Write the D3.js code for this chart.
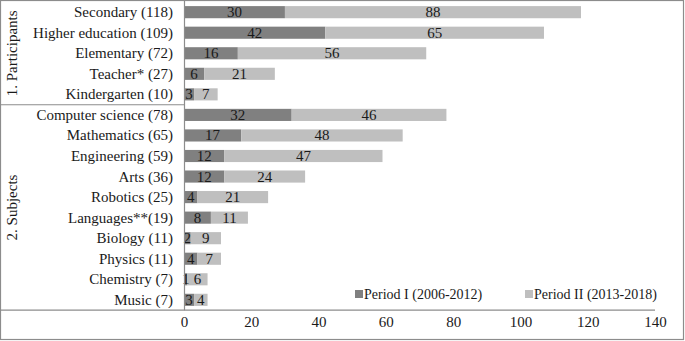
<!DOCTYPE html>
<html>
<head>
<meta charset="utf-8">
<script src="https://cdn.jsdelivr.net/npm/d3@7"></script>
<style>
  body { margin: 0; background: #fff; }
  text { font-family: "Liberation Serif", "Times New Roman", serif; }
</style>
</head>
<body>
<div id="viz-container"></div>
<script>
// categories, top to bottom
let categories = ["Secondary (118)", "Higher education (109)", "Elementary (72)", "Teacher* (27)", "Kindergarten (10)",
  "Computer science (78)", "Mathematics (65)", "Engineering (59)", "Arts (36)", "Robotics (25)",
  "Languages**(19)", "Biology (11)", "Physics (11)", "Chemistry (7)", "Music (7)"];
let period1 = [30, 42, 16, 6, 3, 32, 17, 12, 12, 4, 8, 2, 4, 1, 3];
let period2 = [88, 65, 56, 21, 7, 46, 48, 47, 24, 21, 11, 9, 7, 6, 4];
let seriesNames = ["Period I (2006-2012)", "Period II (2013-2018)"];
let groups = ["1. Participants", "2. Subjects"];
let groupSizes = [5, 10];
let xTicks = [0, 20, 40, 60, 80, 100, 120, 140];

let colors = ["#808080", "#bfbfbf"];
let fs = 15;

let viz = d3.select("#viz-container")
  .append("svg")
    .attr("width", 685)
    .attr("height", 341);

let x = d3.scaleLinear().domain([0, 140]).range([184, 655]);
let y = d3.scaleBand().domain(categories).range([2, 310]).paddingInner(0.41).paddingOuter(0.2);

// outer border
viz.append("rect")
  .attr("x", 0.5).attr("y", 0.5).attr("width", 683).attr("height", 339)
  .attr("fill", "none").attr("stroke", "#8c8c8c").attr("stroke-width", 1.2);

// stacked bars
let rows = categories.map((c, i) => ({ cat: c, a: period1[i], b: period2[i] }));

viz.selectAll(".bar1").data(rows).enter().append("rect")
  .attr("class", "bar1")
  .attr("x", x(0))
  .attr("y", d => y(d.cat))
  .attr("width", d => x(d.a) - x(0))
  .attr("height", y.bandwidth())
  .attr("fill", colors[0]);

viz.selectAll(".bar2").data(rows).enter().append("rect")
  .attr("class", "bar2")
  .attr("x", d => x(d.a))
  .attr("y", d => y(d.cat))
  .attr("width", d => x(d.a + d.b) - x(d.a))
  .attr("height", y.bandwidth())
  .attr("fill", colors[1]);

// value labels
viz.selectAll(".lab1").data(rows).enter().append("text")
  .attr("x", d => (x(0) + x(d.a)) / 2)
  .attr("y", d => y(d.cat) + y.bandwidth() / 2 + 5)
  .attr("text-anchor", "middle")
  .attr("font-size", fs)
  .attr("fill", "#1a1a1a")
  .text(d => d.a);

viz.selectAll(".lab2").data(rows).enter().append("text")
  .attr("x", d => (x(d.a) + x(d.a + d.b)) / 2)
  .attr("y", d => y(d.cat) + y.bandwidth() / 2 + 5)
  .attr("text-anchor", "middle")
  .attr("font-size", fs)
  .attr("fill", "#1a1a1a")
  .text(d => d.b);

// category labels
viz.selectAll(".cat").data(categories).enter().append("text")
  .attr("x", 173)
  .attr("y", d => y(d) + y.bandwidth() / 2 + 5)
  .attr("text-anchor", "end")
  .attr("font-size", fs)
  .attr("fill", "#1a1a1a")
  .text(d => d);

// group boxes and rotated group names
let step = y.step();
let y0 = 2;
let start = 0;
groups.forEach((g, i) => {
  let top = y0 + start * step;
  let bottom = y0 + (start + groupSizes[i]) * step;
  viz.append("line")
    .attr("x1", 0).attr("x2", 184).attr("y1", bottom).attr("y2", bottom)
    .attr("stroke", "#8c8c8c").attr("stroke-width", 1.2);
  viz.append("text")
    .attr("transform", "translate(17," + ((top + bottom) / 2) + ") rotate(-90)")
    .attr("text-anchor", "middle")
    .attr("font-size", fs)
    .attr("fill", "#1a1a1a")
    .text(g);
  start += groupSizes[i];
});

// extend the bottom line out to the end of the axis
viz.append("line")
  .attr("x1", 184).attr("x2", 655).attr("y1", y0 + 15 * step).attr("y2", y0 + 15 * step)
  .attr("stroke", "#8c8c8c").attr("stroke-width", 1.2);

// vertical axis line
viz.append("line")
  .attr("x1", 184.5).attr("x2", 184.5).attr("y1", 1).attr("y2", y0 + 15 * step)
  .attr("stroke", "#8c8c8c").attr("stroke-width", 1.2);

// x axis tick labels
let xAxis = d3.axisBottom(x).tickValues(xTicks).tickSize(0).tickPadding(0);
let ax = viz.append("g").attr("transform", "translate(0,316)").call(xAxis);
ax.select(".domain").remove();
ax.selectAll("text")
  .attr("font-family", "Liberation Serif, Times New Roman, serif")
  .attr("font-size", fs)
  .attr("fill", "#1a1a1a");

// legend
let legendX = [355, 525];
seriesNames.forEach((s, i) => {
  viz.append("rect")
    .attr("x", legendX[i]).attr("y", 290).attr("width", 8).attr("height", 8)
    .attr("fill", colors[i]);
  viz.append("text")
    .attr("x", legendX[i] + 9).attr("y", 299)
    .attr("font-size", 14)
    .attr("fill", "#1a1a1a")
    .text(s);
});
</script>
</body>
</html>
